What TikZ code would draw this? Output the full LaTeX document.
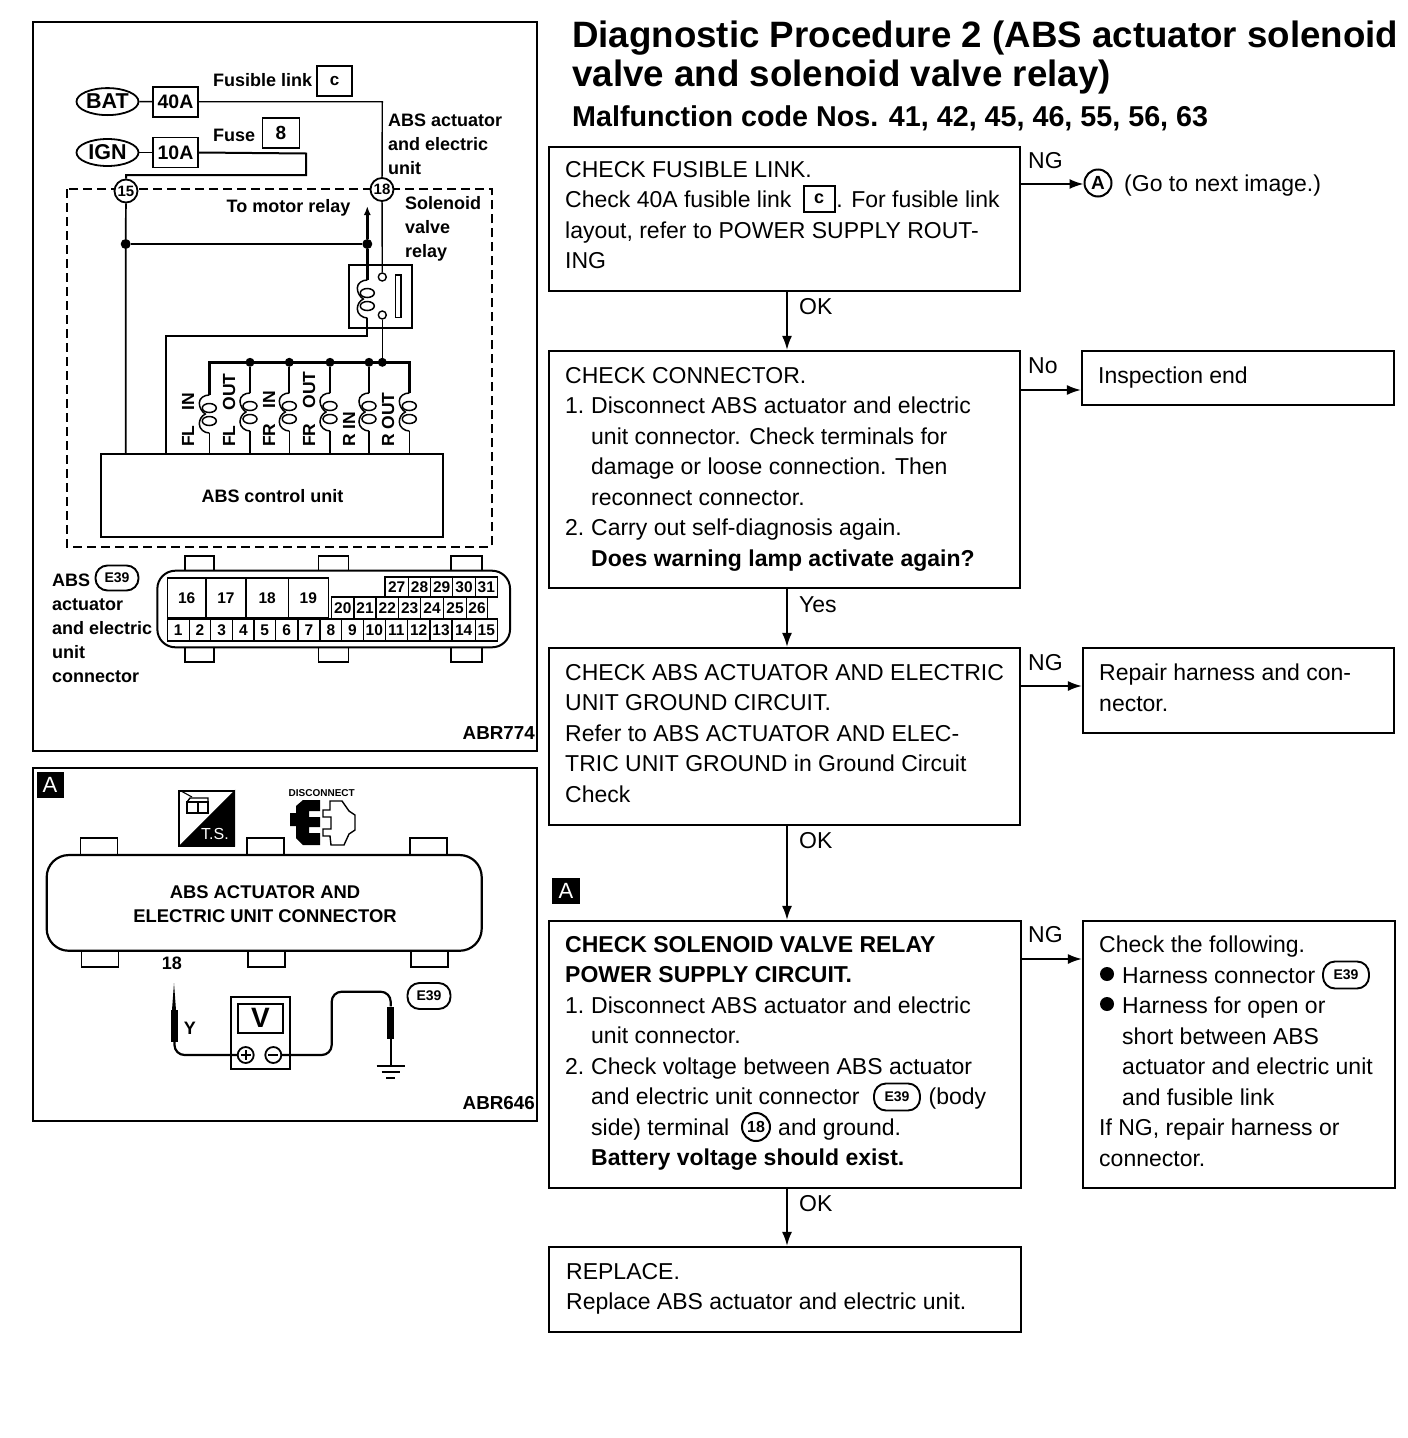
\documentclass[tikz,border=0pt]{standalone}
\usepackage{fontspec}
\setmainfont{Liberation Sans}
\usetikzlibrary{arrows.meta,calc,shapes.geometric}
\newcommand{\fsz}[2]{\fontsize{#1}{#2}\selectfont}
\newcommand{\numitem}[1]{\makebox[26pt][l]{#1}}
\tikzset{
  frame/.style={draw,line width=2.4pt,minimum width=0,inner sep=0},
  fbox/.style={draw,line width=2.2pt,inner sep=0,anchor=center},
  ftext/.style={anchor=north west,inner sep=0,align=left,font=\fsz{23}{30.5}},
  flabel/.style={inner sep=0,font=\fsz{23}{24}},
  arr/.style={line width=1.8pt,-{Latex[length=14pt,width=10pt]}},
  ltext/.style={inner sep=0,font=\bfseries\fsz{18}{24}},
  lml/.style={anchor=north west,inner sep=0,align=left,font=\bfseries\fsz{18}{24}},
  abr/.style={inner sep=0,anchor=east,font=\bfseries\fsz{18.8}{24}},
  wire/.style={line width=1.4pt},
  twire/.style={line width=2.4pt},
  dot/.style={circle,fill=black,inner sep=0,minimum size=10pt},
  pinbox/.style={draw,line width=1.5pt,inner sep=0,font=\bfseries\fsz{15.5}{16}},
  term/.style={circle,draw,fill=white,line width=1.8pt,inner sep=0,minimum size=23pt,font=\bfseries\fsz{15}{16}},
  oval/.style={ellipse,draw,line width=1.8pt,inner sep=0,minimum width=62pt,minimum height=27pt,font=\bfseries\fsz{21.5}{22}},
  fuse/.style={draw,line width=1.8pt,inner sep=0,minimum width=45pt,minimum height=30pt,font=\bfseries\fsz{19.5}{20}},
  badge/.style={draw,line width=1.9pt,rounded corners=12pt,inner sep=0,minimum width=43pt,minimum height=25pt,font=\bfseries\fsz{14}{16}},
  rlab/.style={rotate=90,anchor=west,inner sep=0,font=\bfseries\fsz{17.5}{20}},
  tab/.style={draw,line width=1.8pt,fill=white},
  coil/.pic={
    \draw[line width=1.5pt] (0,0) .. controls (-5,0) and (-10,3) .. (-10,8) .. controls (-10,13) and (-7,17) .. (-4,19)
       .. controls (-8,21) and (-10,25) .. (-10,29) .. controls (-10,34) and (-5,38) .. (0,38);
    \draw[line width=1.5pt] (0,13) ellipse (7 and 4.5);
    \draw[line width=1.5pt] (0,26) ellipse (7 and 4.5);
  }
}
\begin{document}
\begin{tikzpicture}[x=1pt,y=-1pt]
\useasboundingbox[fill=white] (0,0) rectangle (1408,1438);

% ---- titles
\node[anchor=north west,inner sep=0,align=left,font=\bfseries\fsz{36.7}{38.5}] (title) at (572,21)
  {Diagnostic Procedure 2 (ABS actuator solenoid\\valve and solenoid valve relay)};
\node[anchor=west,inner sep=0,font=\bfseries\fsz{28.7}{30}] (subtitle) at (572,118)
  {Malfunction code Nos. 41, 42, 45, 46, 55, 56, 63};

% ---- flow boxes
\node[fbox,minimum width=471pt,minimum height=144pt] (b1) at (784.5,219) {};
\node[fbox,minimum width=471pt,minimum height=237pt] (b2) at (784.5,469.5) {};
\node[fbox,minimum width=471pt,minimum height=177pt] (b3) at (784.5,736.5) {};
\node[fbox,minimum width=472pt,minimum height=267pt] (b4) at (785,1054.5) {};
\node[fbox,minimum width=472pt,minimum height=85pt] (b5) at (785,1289.5) {};
\node[fbox,minimum width=312pt,minimum height=54pt] (r2) at (1238,378) {};
\node[fbox,minimum width=311pt,minimum height=85pt] (r3) at (1238.5,690.5) {};
\node[fbox,minimum width=312pt,minimum height=267pt] (r4) at (1239,1054.5) {};

\node[ftext] (t1) at (565,161) {CHECK FUSIBLE LINK.\\Check 40A fusible link\hspace*{45pt}. For fusible link\\layout, refer to POWER SUPPLY ROUT-\\ING};
\node[ftext] (t2) at (565,367) {CHECK CONNECTOR.\\\numitem{1.}Disconnect ABS actuator and electric\\\hspace*{26pt}unit connector. Check terminals for\\\hspace*{26pt}damage or loose connection. Then\\\hspace*{26pt}reconnect connector.\\\numitem{2.}Carry out self-diagnosis again.\\\hspace*{26pt}\textbf{Does warning lamp activate again?}};
\node[ftext] (t3) at (565,664) {CHECK ABS ACTUATOR AND ELECTRIC\\UNIT GROUND CIRCUIT.\\Refer to ABS ACTUATOR AND ELEC-\\TRIC UNIT GROUND in Ground Circuit\\Check};
\node[ftext] (t4) at (565,936) {\textbf{CHECK SOLENOID VALVE RELAY}\\\textbf{POWER SUPPLY CIRCUIT.}\\\numitem{1.}Disconnect ABS actuator and electric\\\hspace*{26pt}unit connector.\\\numitem{2.}Check voltage between ABS actuator\\\hspace*{26pt}and electric unit connector\hspace*{69pt}(body\\\hspace*{26pt}side) terminal\hspace*{49pt}and ground.\\\hspace*{26pt}\textbf{Battery voltage should exist.}};
\node[ftext] (t5) at (566,1263) {REPLACE.\\Replace ABS actuator and electric unit.};
\node[ftext] (tr2) at (1098,367) {Inspection end};
\node[ftext] (tr3) at (1099,664) {Repair harness and con-\\nector.};
\node[ftext] (tr4) at (1099,936) {Check the following.\\\hspace*{23pt}Harness connector\\\hspace*{23pt}Harness for open or\\\hspace*{23pt}short between ABS\\\hspace*{23pt}actuator and electric unit\\\hspace*{23pt}and fusible link\\If NG, repair harness or\\connector.};

% inline symbols
\node[draw,line width=2pt,inner sep=0,minimum width=31pt,minimum height=26pt,font=\bfseries\fsz{18}{20}] (sc) at (819,199) {c};
\node[circle,draw,line width=2pt,inner sep=0,minimum size=27pt,font=\bfseries\fsz{19}{20}] (ca) at (1098,183) {A};
\node[anchor=west,inner sep=0,font=\fsz{23}{24}] (goto) at (1124,186) {(Go to next image.)};
\node[badge,minimum width=46pt,minimum height=27pt] (e1) at (897,1097) {E39};
\node[circle,draw,line width=2pt,inner sep=0,minimum size=28pt,font=\bfseries\fsz{16}{18}] (c18) at (756,1127) {18};
\node[badge,minimum width=46pt,minimum height=27pt] (e2) at (1346,975) {E39};
\node[circle,fill=black,inner sep=0,minimum size=14pt] (bu1) at (1107,974) {};
\node[circle,fill=black,inner sep=0,minimum size=14pt] (bu2) at (1107,1004) {};
\node[fill=black,text=white,inner sep=0,minimum width=28pt,minimum height=26pt,font=\fsz{22}{24}] (akey) at (566,891) {A};

% flow arrows
\coordinate (ax) at (787,0);
\draw[arr] (b1.south -| ax) -- (b2.north -| ax);
\draw[arr] (b2.south -| ax) -- (b3.north -| ax);
\draw[arr] (b3.south -| ax) -- (b4.north -| ax);
\draw[arr] (b4.south -| ax) -- (b5.north -| ax);
\coordinate (y1) at (0,184);\coordinate (y2) at (0,390);\coordinate (y3) at (0,686);\coordinate (y4) at (0,959);
\draw[arr] (b1.east |- y1) -- (ca.west |- y1);
\draw[arr] (b2.east |- y2) -- (r2.west |- y2);
\draw[arr] (b3.east |- y3) -- (r3.west |- y3);
\draw[arr] (b4.east |- y4) -- (r4.west |- y4);
\node[flabel,anchor=west] (l1) at (1028,161) {NG};
\node[flabel,anchor=west] (l2) at (1028,366) {No};
\node[flabel,anchor=west] (l3) at (1028,663) {NG};
\node[flabel,anchor=west] (l4) at (1028,935) {NG};
\node[flabel,anchor=west] (o1) at (799,307) {OK};
\node[flabel,anchor=west] (o2) at (799,605) {Yes};
\node[flabel,anchor=west] (o3) at (799,841) {OK};
\node[flabel,anchor=west] (o4) at (799,1204) {OK};

% ---- left frames
\node[frame,minimum width=504pt,minimum height=729pt] (fr1) at (285,386.5) {};
\node[frame,minimum width=504pt,minimum height=353pt] (fr2) at (285,944.5) {};

% ---- circuit
\draw[line width=2.2pt,dash pattern=on 9pt off 5pt] (66.7,189) rectangle (491.7,546.7);
\node[oval] (bat) at (107.5,101.6) {BAT};
\node[oval] (ign) at (107.5,152.5) {IGN};
\node[fuse] (f40) at (175.5,101.7) {40A};
\node[fuse] (f10) at (175.5,152.5) {10A};
\node[ltext,anchor=west] (fl) at (213,80) {Fusible link};
\node[draw,line width=1.8pt,inner sep=0,minimum width=35pt,minimum height=30pt,font=\bfseries\fsz{17}{18}] (bc) at (334.5,80.7) {c};
\node[ltext,anchor=west] (fu) at (213,135) {Fuse};
\node[draw,line width=1.8pt,inner sep=0,minimum width=37pt,minimum height=30pt,font=\bfseries\fsz{19}{20}] (b8) at (281,133.3) {8};
\node[lml] (la) at (388,114) {ABS actuator\\and electric\\unit};
\node[lml] (ls) at (405,196) {Solenoid\\valve\\relay};
\node[ltext] (tm) at (288.5,208) {To motor relay};
\node[term] (t15) at (126,191) {15};
\node[term] (t18) at (382,189.5) {18};
\node[fbox,line width=1.8pt,minimum width=342.6pt,minimum height=82.7pt] (ecu) at (272,495.3) {};
\node[ltext] (ecut) at (272.5,496) {ABS control unit};
\node[draw,line width=1.8pt,inner sep=0,minimum width=62.7pt,minimum height=62.7pt] (rly) at (380.3,296.3) {};
\node[draw,line width=1.5pt,inner sep=0,minimum width=5.3pt,minimum height=42.7pt] (bar) at (398.3,296.3) {};
\node[circle,draw,line width=1.4pt,fill=white,inner sep=0,minimum size=8pt] (ct1) at (382.3,277) {};
\node[circle,draw,line width=1.4pt,fill=white,inner sep=0,minimum size=8pt] (ct2) at (382.3,315) {};

\draw[wire] (bat) -- (f40);
\draw[wire] (ign) -- (f10);
\coordinate (w1) at (382.3,101.7);
\draw[wire] (f40.east) -- (w1) -- (t18);
\coordinate (w2) at (306,153.5); \coordinate (w3) at (306,175); \coordinate (w4) at (126,175);
\draw[twire,line width=2pt] (f10.east) -- (w2) -- (w3) -- (w4) -- (t15);
\draw[wire] (t18) -- (ct1);
\coordinate (j15) at (125.7,244); \coordinate (j18) at (367.3,244);
\node[dot] (d15) at (j15) {}; \node[dot] (d18) at (j18) {};
\draw[wire,line width=1.7pt] (t15) -- (d15) -- (d15 |- ecu.north);
\draw[wire] (d15) -- (d18);
\coordinate (arrtop) at (367.3,206);
\coordinate (rtop) at (367.3,280); \coordinate (rbot) at (367.3,318);
\draw[twire] (rtop) -- (d18);
\draw[twire,-{Latex[length=9pt,width=7pt]}] (d18) -- (arrtop);
\pic at (rtop) {coil};
\coordinate (w5) at (367.3,335.7); \coordinate (w6) at (166,335.7);
\draw[wire,line width=2pt] (rbot) -- (w5) -- (w6) -- (w6 |- ecu.north);

% solenoid bus
\coordinate (bus) at (0,362.3);
\foreach \nm/\cx/\rt in {a/209.3/395,b/250/393,c/289.3/393,d/330/393,e/369/393,f/409.3/393}{
  \coordinate (top\nm) at (\cx,\rt);
  \coordinate (bot\nm) at (\cx,\rt+38);
  \pic at (top\nm) {coil};
  \draw[wire] (bot\nm) -- (bot\nm |- ecu.north);
}
\draw[twire] (topa) -- (topa |- bus) -- (topf |- bus) -- (topf);
\foreach \nm in {b,c,d,e}{
  \node[dot,minimum size=9pt] (dot\nm) at (top\nm |- bus) {};
  \draw[wire,line width=1.9pt] (dot\nm) -- (top\nm);
}
\node[dot,minimum size=9pt] (dotg) at (ct2 |- bus) {};
\draw[wire] (ct2) -- (dotg);

\node[rlab] (r1) at (188,447) {FL\hspace{15pt}IN};
\node[rlab] (r2a) at (229,447) {FL\hspace{15pt}OUT};
\node[rlab] (r3a) at (269,447) {FR\hspace{15pt}IN};
\node[rlab] (r4a) at (309,447) {FR\hspace{15pt}OUT};
\node[rlab] (r5) at (349,447) {R IN};
\node[rlab] (r6) at (388,447) {R OUT};

% ---- connector E39
\node[lml] (lc1) at (52,574) {ABS\\actuator\\and electric\\unit\\connector};
\node[badge] (ce) at (117,578) {E39};
\foreach \nm/\x/\w in {a/199.5/29,b/333.5/30,c/466.4/31}{
  \node[tab,inner sep=0,minimum width=\w pt,minimum height=16pt] (tt\nm) at (\x,564) {};
  \node[tab,inner sep=0,minimum width=\w pt,minimum height=16pt] (tb\nm) at (\x,654) {};
}
\node[draw,fill=white,line width=2pt,rounded corners=18pt,inner sep=0,minimum width=352.7pt,minimum height=76.6pt] (conn) at (333.7,609) {};
\foreach \n/\xa/\xb in {16/167.3/206,17/206/246,18/246/288.3,19/288.3/328.3}
  \node[pinbox,minimum width=\xb-\xa,minimum height=40pt] (p\n) at ({(\xa+\xb)/2},598) {\n};
\foreach \n/\xa/\xb in {20/331.7/354,21/354/376,22/376/398.7,23/398.7/420.7,24/420.7/443.3,25/443.3/466.7,26/466.7/487.3}
  \node[pinbox,minimum width=\xb-\xa,minimum height=22pt] (p\n) at ({(\xa+\xb)/2},608) {\n};
\foreach \n/\xa/\xb in {27/385/408.3,28/408.3/430.7,29/430.7/452.7,30/452.7/475.3,31/475.3/497.3}
  \node[pinbox,minimum width=\xb-\xa,minimum height=20pt] (p\n) at ({(\xa+\xb)/2},587) {\n};
\foreach \n/\xa/\xb in {1/167.3/189.3,2/189.3/210.7,3/210.7/232.7,4/232.7/254,5/254/275.3,6/275.3/298,7/298/320,8/320/341.7,9/341.7/363.3,10/363.3/385.3,11/385.3/407.3,12/407.3/430,13/430/452,14/452/475.3,15/475.3/497.3}
  \node[pinbox,minimum width=\xb-\xa,minimum height=22pt] (p\n) at ({(\xa+\xb)/2},630) {\n};
\node[abr] (abr1) at (535,733) {ABR774};

% ---- panel A
\node[fill=black,text=white,inner sep=0,minimum width=27pt,minimum height=26pt,font=\fsz{22}{24}] (akey2) at (50,785) {A};
% T.S. icon
\node[draw,line width=2pt,inner sep=0,minimum width=55pt,minimum height=55pt] (ts) at (206.7,818.2) {};
\fill (ts.north east) -- (ts.south east) -- (ts.south west) -- cycle;
\draw[line width=1.4pt] (187,802) -- (208,802) -- (208,813) -- (187,813) -- cycle (198,802) -- (198,813);
\draw[line width=1.4pt] (187,802) -- (190,798) -- (208,798) -- (208,802);
\draw[line width=1.1pt] (181,791) -- (192,797);
\node[text=white,inner sep=0,font=\fsz{16}{18}] (tst) at (215,834) {T.S.};
% disconnect icon
\node[inner sep=0,font=\bfseries\fsz{10}{12}] (disc) at (321.7,793) {DISCONNECT};
\fill (290,813) -- (296,813) -- (296,806) -- (303,800) -- (320,800) -- (320,811) -- (309,811) -- (309,817) -- (320,817) -- (320,827) -- (309,827) -- (309,833) -- (320,833) -- (320,845) -- (303,845) -- (296,838) -- (296,826) -- (290,826) -- cycle;
\draw[line width=1.4pt] (323,810) -- (330,810) -- (330,801) -- (342,801) -- (349,811) -- (355,815) -- (355,830) -- (349,834) -- (344,845) -- (331,845) -- (330,836) -- (323,836) -- (323,829) -- (331,829) -- (331,817) -- (323,817) -- cycle;
% connector body
\foreach \nm/\x/\w in {a/99/37,b/265.3/37,c/428.7/37}{
  \node[tab,inner sep=0,minimum width=\w pt,minimum height=18pt] (ut\nm) at (\x,847) {};
  \node[tab,inner sep=0,minimum width=\w pt,minimum height=18pt] (ub\nm) at (\x+1,958) {};
}
\node[draw,fill=white,line width=2.2pt,rounded corners=22pt,inner sep=0,minimum width=435pt,minimum height=95.7pt] (ubody) at (264.2,902.9) {};
\node[inner sep=0,align=center,font=\bfseries\fsz{18.4}{24}] (ubt) at (265,904) {ABS ACTUATOR AND\\ELECTRIC UNIT CONNECTOR};
\node[ltext] (n18) at (172,963) {18};
\node[ltext] (ny) at (190,1028) {Y};
% meter
\node[draw,line width=2pt,inner sep=0,minimum width=59.3pt,minimum height=72.3pt] (mtr) at (260.4,1032.8) {};
\node[draw,line width=2pt,inner sep=0,minimum width=45pt,minimum height=28.7pt,font=\bfseries\fsz{28}{30}] (mv) at (260.5,1018.3) {V};
\node[circle,draw,line width=1.8pt,fill=white,inner sep=0,minimum size=16pt] (mp) at (245.7,1055) {};
\node[circle,draw,line width=1.8pt,fill=white,inner sep=0,minimum size=16pt] (mm) at (273.3,1055) {};
\draw[line width=1.8pt] (240.7,1055) -- (250.7,1055) (245.7,1050) -- (245.7,1060) (268.3,1055) -- (278.3,1055);
% probes
\coordinate (ptip) at (174,983);
\node[fill=black,inner sep=0,minimum width=7.5pt,minimum height=32pt] (pb) at (174.5,1026) {};
\fill (ptip) -- (176,1010) -- (172,1010) -- cycle;
\draw[line width=2.2pt,rounded corners=10pt] (pb.south) -- (174.5,1055) -- (mp.west);
\coordinate (gtip) at (390.7,1065);
\node[fill=black,inner sep=0,minimum width=7.5pt,minimum height=32pt] (gb) at (390.7,1022.5) {};
\draw[line width=2.2pt,rounded corners=10pt] (mm.east) -- (331.7,1055) -- (331.7,991.7) -- (390.7,991.7) -- (gb.north);
\draw[line width=1.8pt] (gb.south) -- (gtip);
\coordinate (g1) at (390.7,1066); \coordinate (g2) at (390.7,1071.5); \coordinate (g3) at (390.7,1077.5);
\draw[line width=2pt] ($(g1)+(-14,0)$) -- ($(g1)+(14,0)$) ($(g2)+(-9,0)$) -- ($(g2)+(9,0)$) ($(g3)+(-4.5,0)$) -- ($(g3)+(4.5,0)$);
\node[badge,minimum height=26pt] (ue) at (429,996) {E39};
\node[abr] (abr2) at (535,1103) {ABR646};
\end{tikzpicture}
\end{document}
